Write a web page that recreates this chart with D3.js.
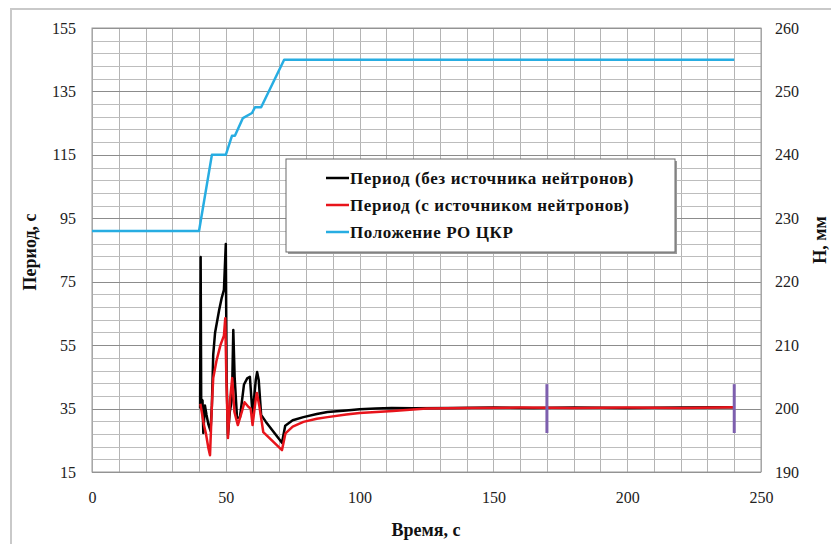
<!DOCTYPE html>
<html>
<head>
<meta charset="utf-8">
<script src="https://cdn.jsdelivr.net/npm/d3@7"></script>
<style>
  body { margin: 0; background: #fff; }
  svg text { font-family: "Liberation Serif", "Times New Roman", Tinos, "DejaVu Serif", serif; }
</style>
</head>
<body>
<div id="chart"></div>
<script>
// data
const timeBlack   = [40.4, 40.6, 40.8, 41.3, 41.6, 42.2, 42.8, 43.5, 44.3, 44.8, 45.3, 46, 47.5, 48.5, 49.3, 50.0, 50.3, 50.8, 51.5, 52.3, 52.8, 53.3, 54.2, 55.3, 56.8, 58, 59, 60, 61.2, 61.7, 62.3, 63.2, 65, 71, 72.2, 75, 79, 84, 88, 95, 100, 106, 112, 120, 135, 150, 165, 180, 200, 220, 240]
const periodBlack = [35, 82.8, 38, 37.5, 27.3, 36, 33, 30, 28, 36, 52, 59, 66, 70, 72.4, 86.9, 44.6, 26.7, 34, 38, 59.8, 45, 32, 32.3, 42.6, 44.5, 45, 33, 44, 46.5, 44, 33, 30.8, 24.2, 29.6, 31.3, 32.3, 33.3, 33.9, 34.4, 34.8, 35.0, 35.2, 35.1, 35.2, 35.3, 35.2, 35.3, 35.2, 35.3, 35.4]

const timeRed   = [40.5, 41, 41.8, 42.6, 43.5, 44.1, 44.8, 45.3, 46.5, 48, 49.3, 49.8, 50.2, 50.8, 51.6, 52.4, 53.2, 54.5, 56, 57, 58.5, 59.3, 60, 61.2, 61.6, 62.5, 64, 71, 72.3, 75, 79, 84, 88, 95, 100, 112.5, 125, 140, 160, 180, 200, 220, 240]
const periodRed = [36.5, 34, 30, 27, 22.5, 20.3, 36, 44.6, 50, 55, 58, 63.5, 45, 25.7, 38, 44.6, 34, 29.8, 34, 37, 35.5, 35, 29.8, 38, 39.9, 36, 27.6, 21.9, 27.2, 29.3, 30.8, 31.8, 32.3, 33.1, 33.6, 34.2, 35.0, 35.2, 35.3, 35.2, 35.3, 35.2, 35.4]

const timeRod = [0, 40, 44.8, 50, 52.3, 53.4, 56.4, 59.8, 60.9, 63.2, 71.8, 240]
const rodPos  = [228, 228, 240, 240, 243, 243, 245.8, 246.6, 247.5, 247.5, 255, 255]

const markerTimes = [170, 240]
const markerRange = [27.3, 42.7]

const xTicks = [0, 50, 100, 150, 200, 250]
const leftTicks = [15, 35, 55, 75, 95, 115, 135, 155]
const rightTicks = [190, 200, 210, 220, 230, 240, 250, 260]

const legendNames = ["Период (без источника нейтронов)", "Период (с источником нейтронов)", "Положение РО ЦКР"]
const colors = ["#000000", "#e8141b", "#27ade2"]

const serif = '"Liberation Serif", "Times New Roman", Tinos, "DejaVu Serif", serif'

// dimensions
const W = 831, H = 544
const margin = { top: 28, right: 70, bottom: 72, left: 92 }
const width = 761 - margin.left
const height = 472 - margin.top

const svg = d3.select("#chart").append("svg")
    .attr("width", W)
    .attr("height", H)
    .style("font-family", serif)

// outer frame
svg.append("rect")
    .attr("x", 11).attr("y", 9)
    .attr("width", 900).attr("height", 700)
    .attr("fill", "none")
    .attr("stroke", "#c9c9c9")
    .attr("stroke-width", 2)

const g = svg.append("g").attr("transform", `translate(${margin.left},${margin.top})`)

const x = d3.scaleLinear().domain([0, 250]).range([0, width])
const yL = d3.scaleLinear().domain([15, 155]).range([height, 0])
const yR = d3.scaleLinear().domain([190, 260]).range([height, 0])

// grid
g.append("g")
    .selectAll("line")
    .data(d3.range(0, 251, 10))
    .join("line")
    .attr("x1", d => Math.round(x(d)) + 0.5).attr("x2", d => Math.round(x(d)) + 0.5)
    .attr("y1", 0).attr("y2", height)
    .attr("stroke", "#b4b4b4")
    .attr("stroke-width", 1)

g.append("g")
    .selectAll("line")
    .data(d3.range(190, 260.1, 2))
    .join("line")
    .attr("x1", 0).attr("x2", width)
    .attr("y1", d => Math.round(yR(d)) + 0.5).attr("y2", d => Math.round(yR(d)) + 0.5)
    .attr("stroke", d => d % 10 === 0 ? "#8c8c8c" : "#bdbdbd")
    .attr("stroke-width", 1)

g.append("rect")
    .attr("width", width).attr("height", height)
    .attr("fill", "none")
    .attr("stroke", "#9a9a9a")

// axes (labels only)
const xAxis = g.append("g")
    .attr("transform", `translate(0,${height})`)
    .call(d3.axisBottom(x).tickValues(xTicks).tickSize(0).tickPadding(20))
const yAxisL = g.append("g")
    .call(d3.axisLeft(yL).tickValues(leftTicks).tickSize(0).tickPadding(16))
const yAxisR = g.append("g")
    .attr("transform", `translate(${width},0)`)
    .call(d3.axisRight(yR).tickValues(rightTicks).tickSize(0).tickPadding(14))

for (const a of [xAxis, yAxisL, yAxisR]) {
    a.attr("font-family", null)
    a.select(".domain").remove()
    a.selectAll("text")
        .style("font-family", serif)
        .attr("font-size", 16)
        .attr("fill", "#222")
}

// lines
const lineL = d3.line().x(d => x(d[0])).y(d => yL(d[1]))
const lineR = d3.line().x(d => x(d[0])).y(d => yR(d[1]))

g.append("path")
    .datum(d3.zip(timeRod, rodPos))
    .attr("d", lineR)
    .attr("fill", "none")
    .attr("stroke", colors[2])
    .attr("stroke-width", 2.5)
    .attr("stroke-linejoin", "round")

g.append("path")
    .datum(d3.zip(timeBlack, periodBlack))
    .attr("d", lineL)
    .attr("fill", "none")
    .attr("stroke", colors[0])
    .attr("stroke-width", 2.5)
    .attr("stroke-linejoin", "round")

g.append("path")
    .datum(d3.zip(timeRed, periodRed))
    .attr("d", lineL)
    .attr("fill", "none")
    .attr("stroke", colors[1])
    .attr("stroke-width", 2.5)
    .attr("stroke-linejoin", "round")

// purple markers
g.selectAll(".marker")
    .data(markerTimes)
    .join("line")
    .attr("class", "marker")
    .attr("x1", d => x(d)).attr("x2", d => x(d))
    .attr("y1", yL(markerRange[0])).attr("y2", yL(markerRange[1]))
    .attr("stroke", "#7d5fae")
    .attr("stroke-width", 3)

// legend
const lg = svg.append("g").attr("transform", "translate(286,159)")
lg.append("rect")
    .attr("x", 2).attr("y", 2)
    .attr("width", 389).attr("height", 93)
    .attr("fill", "#9a9a9a")
lg.append("rect")
    .attr("width", 389).attr("height", 93)
    .attr("fill", "#fff")
    .attr("stroke", "#6a6a6a")
legendNames.forEach((name, i) => {
    const yy = 19 + i * 27
    lg.append("line")
        .attr("x1", 40).attr("x2", 63)
        .attr("y1", yy).attr("y2", yy)
        .attr("stroke", colors[i])
        .attr("stroke-width", 2.5)
    lg.append("text")
        .attr("x", 64).attr("y", yy)
        .attr("dy", "0.35em")
        .attr("font-size", 17)
        .attr("font-weight", "bold")
        .attr("letter-spacing", 0.6)
        .attr("fill", "#111")
        .text(name)
})

// axis titles
svg.append("text")
    .attr("x", 426).attr("y", 530)
    .attr("dy", "0.35em")
    .attr("text-anchor", "middle")
    .attr("font-size", 18)
    .attr("font-weight", "bold")
    .attr("fill", "#111")
    .text("Время, с")

svg.append("text")
    .attr("transform", "translate(30,252) rotate(-90)")
    .attr("dy", "0.35em")
    .attr("text-anchor", "middle")
    .attr("font-size", 18)
    .attr("font-weight", "bold")
    .attr("fill", "#111")
    .text("Период, с")

svg.append("text")
    .attr("transform", "translate(820,240) rotate(-90)")
    .attr("dy", "0.35em")
    .attr("text-anchor", "middle")
    .attr("font-size", 18)
    .attr("font-weight", "bold")
    .attr("fill", "#111")
    .text("Н, мм")
</script>
</body>
</html>
